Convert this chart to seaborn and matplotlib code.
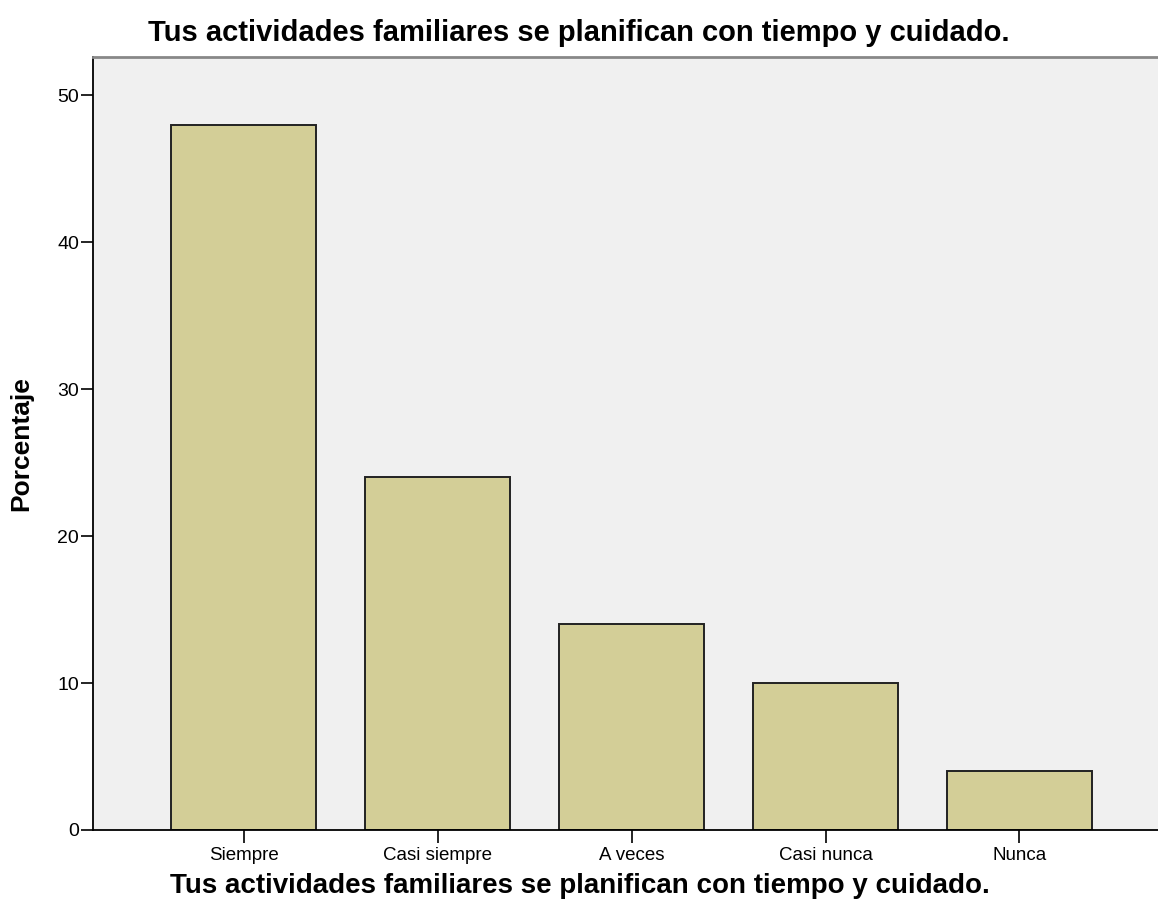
import matplotlib
matplotlib.use("Agg")
import matplotlib.pyplot as plt
import seaborn as sns
import pandas as pd

categories = ["Siempre", "Casi siempre", "A veces", "Casi nunca", "Nunca"]
porcentaje = [48, 24, 14, 10, 4]
y_ticks = [0, 10, 20, 30, 40, 50]

titulo = "Tus actividades familiares se planifican con tiempo y cuidado."

df = pd.DataFrame({"categoria": categories, "porcentaje": porcentaje})

sns.set_style("white")
plt.rcParams["font.family"] = ["Liberation Sans", "DejaVu Sans"]
plt.rcParams["text.color"] = "black"
plt.rcParams["axes.labelcolor"] = "black"

fig = plt.figure(figsize=(11.58, 9.16), dpi=100)
ax = fig.add_axes([93 / 1158, 86 / 916, 1 - 93 / 1158, (830 - 57) / 916])
ax.set_facecolor("#F0F0F0")

sns.barplot(
    data=df, x="categoria", y="porcentaje", order=categories,
    color="#D3CE97", saturation=1, width=0.75,
    edgecolor="#222222", linewidth=1.4, ax=ax
)

ax.set_xlim(-0.776, 4.714)
ax.set_ylim(0, 52.6)
ax.set_yticks(y_ticks)
ax.tick_params(axis="y", direction="out", length=9, width=1.2, labelsize=14, pad=1, left=True, colors="black")
ax.tick_params(axis="x", direction="out", length=9, width=1.2, labelsize=13.5, pad=3, bottom=True, colors="black")

for side in ["left", "bottom"]:
    ax.spines[side].set_color("black")
    ax.spines[side].set_linewidth(1.3)
ax.spines["top"].set_color("#888888")
ax.spines["top"].set_linewidth(2)
ax.spines["right"].set_visible(False)

ax.set_ylabel("Porcentaje", fontsize=19, fontweight="bold")
ax.yaxis.set_label_coords(-0.056, 0.5)
ax.set_xlabel(titulo, fontsize=20, fontweight="bold")
ax.xaxis.set_label_coords(0.457, -0.056)

fig.text(0.5, 1 - 33 / 916, titulo, ha="center", va="center", fontsize=21, fontweight="bold")

fig.savefig("out.png", dpi=100)
